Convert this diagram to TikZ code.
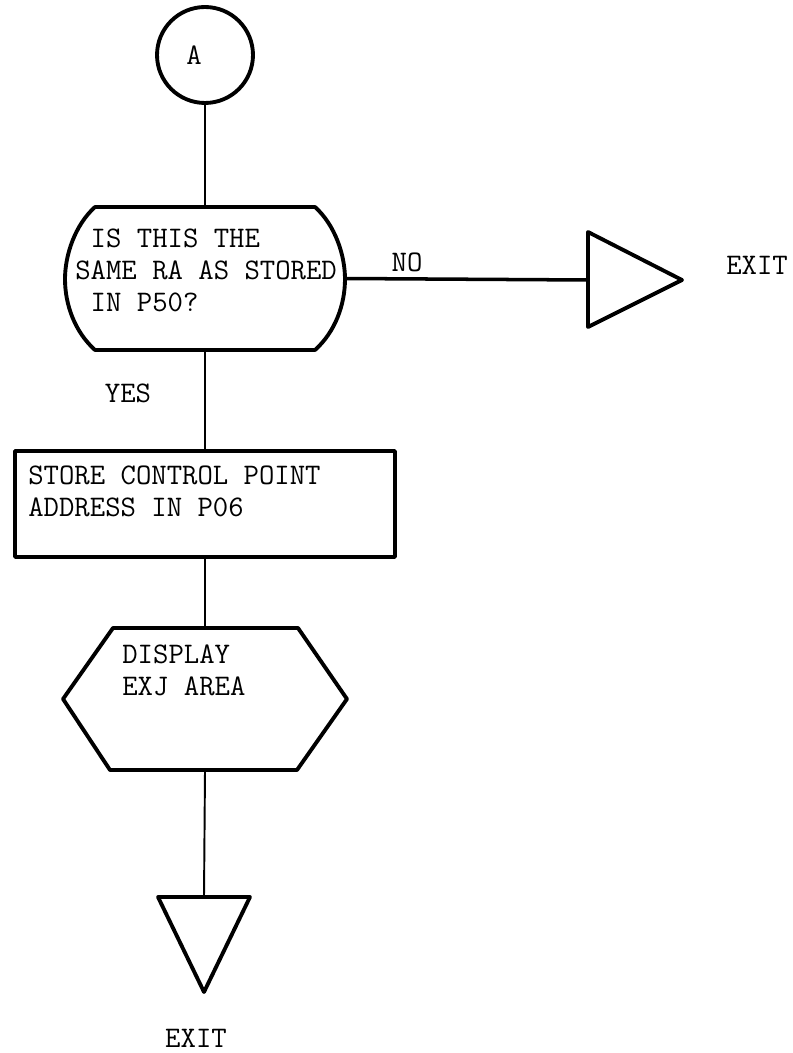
\documentclass[tikz,border=0pt]{standalone}

\begin{document}
\begin{tikzpicture}[x=0.02cm,y=-0.02cm,font=\ttfamily\fontsize{17}{18.2}\selectfont,
  outline/.style={line width=2.2pt,line join=round},flowline/.style={line width=1.1pt},
  txt/.style={anchor=west,align=left,inner sep=0}]
\useasboundingbox (0,0) rectangle (793,1053);
\node[draw,circle,outline,minimum size=1.92cm,inner sep=0,label={[xshift=-.22cm]center:A}] (A) at (205,55) {};
\node[minimum width=5.6cm,minimum height=2.86cm,inner sep=0,outer sep=0] (ask) at (205,278.5) {};
\draw[outline] (95,207) -- (315,207) .. controls (335,225) and (345,255) .. (345,279) .. controls (345,305) and (335,332) .. (315,350) -- (95,350) .. controls (75,332) and (65,305) .. (65,279) .. controls (65,255) and (75,225) .. cycle;
\node[txt] (asktxt) at (75,270) {\phantom{S}IS THIS THE\\SAME RA AS STORED\\\phantom{S}IN P50?};
\coordinate (exitR) at (588,280);
\draw[outline] (exitR) ++(0,-48) -- ++(94,48) -- ++(-94,47) -- cycle;
\node (exitRtxt) at (757,265) {EXIT};
\node (no) at (407,262) {NO};
\node (yes) at (128,393) {YES};
\node[draw,outline,minimum width=7.6cm,minimum height=2.12cm,inner sep=0] (store) at (205,504) {};
\node[txt] (storetxt) at (28,491) {STORE CONTROL POINT\\ADDRESS IN P06};
\node[minimum width=5.68cm,minimum height=2.84cm,inner sep=0,outer sep=0] (disp) at (205,699) {};
\draw[outline] (113,628) -- (298,628) -- (disp.east) -- (297,770) -- (110,770) -- (disp.west) -- cycle;
\node[txt] (disptxt) at (122,670) {DISPLAY\\EXJ AREA};
\coordinate (exitD) at (204,897);
\draw[outline] (exitD) ++(-46,0) -- ++(92,0) -- ++(-46,95) -- cycle;
\node (exitDtxt) at (196,1038) {EXIT};
\draw[flowline] (A) -- (ask.north);
\draw[line width=2pt] (ask.east) -- (exitR);
\draw[flowline] (ask.south) -- (store.north);
\draw[flowline] (store.south) -- (disp.north);
\draw[flowline] (disp.south) -- (exitD);
\end{tikzpicture}
\end{document}
